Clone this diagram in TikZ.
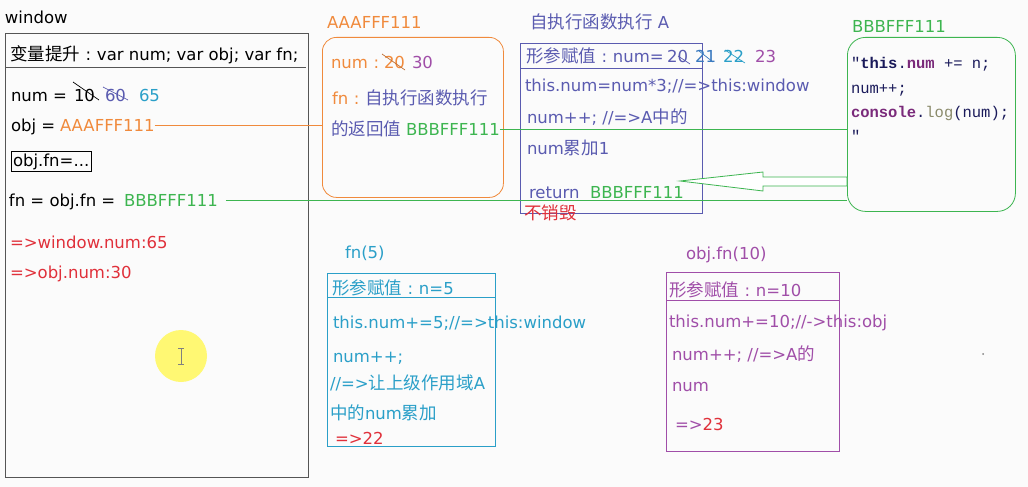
\documentclass[tikz,border=0pt]{standalone}
\usepackage{fontspec}
\setmainfont{DejaVu Sans}
\newfontfamily\cjk{Noto Sans CJK SC}
\newfontfamily\code{Liberation Mono}
\usetikzlibrary{fit}
\newcommand\zh[1]{{\cjk\fontsize{17.5}{18}\selectfont #1}}
\newcommand\cc{\makebox[17pt]{:}}
\newcommand\fs{\fontsize{16.5}{18}\selectfont}
\newcommand\cfs{\code\fontsize{15.5}{18}\selectfont}
\definecolor{bg}{HTML}{FBFBFB}
\definecolor{orng}{HTML}{F08A3C}
\definecolor{grn}{HTML}{3DB550}
\definecolor{bp}{HTML}{5A5BB0}
\definecolor{blu}{HTML}{3A7AC0}
\definecolor{cyn}{HTML}{2A9FC8}
\definecolor{purp}{HTML}{A04EA8}
\definecolor{rd}{HTML}{E0303A}
\definecolor{navy}{HTML}{1A1A5A}
\definecolor{cpurp}{HTML}{7A2A7A}
\definecolor{olive}{HTML}{8A8A6A}
\definecolor{frm}{HTML}{555555}
\tikzset{
  txt/.style={anchor=base west, inner sep=0pt, outer sep=0pt, font=\fs},
  ctxt/.style={anchor=base west, inner sep=0pt, outer sep=0pt, font=\cfs, text=navy},
  frame/.style={draw, line width=0.8pt, inner sep=0pt, anchor=north west},
  strike/.style={line width=0.7pt},
}
\begin{document}
\begin{tikzpicture}[x=1pt,y=-1pt]
\useasboundingbox (0,0) rectangle (1028,487);
\fill[bg] (0,0) rectangle (1028,487);

% ---------- window ----------
\node[txt] (wlab) at (5,24) {window};
\node[frame, draw=frm, minimum width=303pt, minimum height=444pt] (win) at (5,33) {};
\node[txt] (hoist) at (10,60) {\zh{变量提升}\cc var num; var obj; var fn;};
\draw[frm, line width=0.8pt] (5,67) -- (306,67);
\node[txt] (numl) at (11,101) {num =};
\node[txt] (v10) at (74,101) {10};
\node[txt, text=bp] (v60) at (105,101) {60};
\node[txt, text=cyn] (v65) at (139,101) {65};
\draw[strike] (73,82) -- (99,100);
\draw[strike, bp] (103,87) -- (128,100);
\node[txt] (objl) at (11,131) {obj =};
\node[txt, text=orng] (objv) at (60,131) {AAAFFF111};
\node[txt] (objfn) at (13,166) {obj.fn=...};
\node[draw, line width=0.8pt, fit=(objfn), inner sep=2pt] (objfnbox) {};
\node[txt] (fnl) at (9,206) {fn = obj.fn =};
\node[txt, text=grn] (fnv) at (124,206) {BBBFFF111};
\node[txt, text=rd] (r1) at (10,248) {=>window.num:65};
\node[txt, text=rd] (r2) at (10,278) {=>obj.num:30};

% cursor highlight
\fill[yellow!55] (181,356) circle (26pt);
\draw[gray, line width=0.8pt] (181,348) -- (181,364) (178,348) -- (184,348) (178,364) -- (184,364);

% ---------- AAAFFF111 ----------
\node[txt, text=orng] (aaalab) at (327,29) {AAAFFF111};
\node[frame, draw=orng, rounded corners=14pt, minimum width=181pt, minimum height=160pt] (aaa) at (322,37) {};
\node[txt, text=orng] (anum) at (331,69) {num\cc};
\node[txt, text=orng] (a20) at (384,69) {20};
\node[txt, text=purp] (a30) at (412,69) {30};
\draw[strike, orng!80!black] (382,54) -- (405,70);
\node[txt] (afn) at (332,104) {\textcolor{orng}{fn\cc}\textcolor{bp}{\zh{自执行函数执行}}};
\node[txt, text=bp] (aret) at (331,135) {\zh{的返回值}};
\node[txt, text=grn] (aretv) at (406,135) {BBBFFF111};

% ---------- A ----------
\node[txt, text=bp] (alab) at (530,29) {\zh{自执行函数执行} A};
\node[frame, draw=bp, minimum width=182pt, minimum height=170pt] (abox) at (520,43) {};
\draw[bp, line width=0.8pt] (520,68) -- (702,68);
\node[txt, text=bp] (ahead) at (526,63) {\zh{形参赋值}\cc num=};
\node[txt, text=bp] (a20b) at (667,63) {20};
\node[txt, text=blu] (a21) at (695,63) {21};
\node[txt, text=cyn] (a22) at (723,63) {22};
\node[txt, text=purp] (a23) at (755,63) {23};
\draw[strike, bp] (678,56) -- (690,64);
\draw[strike, blu] (699,51) -- (713,62);
\draw[strike, cyn] (725,50) -- (745,63);
\node[txt, text=bp] (al1) at (525,92) {this.num=num*3;//=>this:window};
\node[txt, text=bp] (al2) at (527,123) {num++; //=>A\zh{中的}};
\node[txt, text=bp] (al3) at (527,154) {num\zh{累加}1};
\node[txt, text=bp] (al4) at (529,198) {return};
\node[txt, text=grn] (al4v) at (590,198) {BBBFFF111};
\node[txt, text=rd] (keep) at (524,219) {\zh{不销毁}};

% ---------- BBBFFF111 ----------
\node[txt, text=grn] (blab) at (852,33) {BBBFFF111};
\node[frame, draw=grn, rounded corners=18pt, minimum width=168pt, minimum height=174pt] (bbb) at (847,37) {};
\node[ctxt] (c1) at (851,68) {"\textbf{\textcolor{navy}{this}}.\textbf{\textcolor{cpurp}{num}} += n;};
\node[ctxt] (c2) at (851,93) {num++;};
\node[ctxt] (c3) at (851,117) {\textbf{\textcolor{cpurp}{console}}.\textcolor{olive}{log}(num);};
\node[ctxt] (c4) at (851,141) {"};

% ---------- connectors ----------
\draw[orng, line width=0.8pt] (objv.east) -- (objv.east -| aaa.west);
\draw[grn, line width=0.8pt] ([xshift=8pt]fnv.east) -- (fnv.east -| bbb.west);
\draw[grn, line width=0.8pt] (aretv.east) -- (aretv.east -| bbb.west);
\coordinate (tip) at (680,181);
\draw[grn, line width=0.8pt, fill=white]
  (tip) -- (763,172) -- (763,177) -- (bbb.west |- 0,177) -- (bbb.west |- 0,186)
  -- (763,186) -- (763,191) -- cycle;

% ---------- fn(5) ----------
\node[txt, text=cyn] (f5lab) at (345,258) {fn(5)};
\node[frame, draw=cyn, minimum width=168pt, minimum height=173pt] (f5) at (327,273) {};
\draw[cyn, line width=0.8pt] (327,297) -- (495,297);
\node[txt, text=cyn] (f5h) at (332,294) {\zh{形参赋值}\cc n=5};
\node[txt, text=cyn] (f5a) at (333,328) {this.num+=5;//=>this:window};
\node[txt, text=cyn] (f5b) at (333,362) {num++;};
\node[txt, text=cyn] (f5c) at (330,389) {//=>\zh{让上级作用域}A};
\node[txt, text=cyn] (f5d) at (330,419) {\zh{中的}num\zh{累加}};
\node[txt, text=rd] (f5e) at (335,444) {=>22};

% ---------- obj.fn(10) ----------
\node[txt, text=purp] (o10lab) at (686,259) {obj.fn(10)};
\node[frame, draw=purp, minimum width=173pt, minimum height=179pt] (o10) at (666,272) {};
\draw[purp, line width=0.8pt] (666,300) -- (839,300);
\node[txt, text=purp] (o10h) at (669,296) {\zh{形参赋值}\cc n=10};
\node[txt, text=purp] (o10a) at (669,327) {this.num+=10;//->this:obj};
\node[txt, text=purp] (o10b) at (672,360) {num++; //=>A\zh{的}};
\node[txt, text=purp] (o10c) at (672,391) {num};
\node[txt] (o10d) at (675,430) {\textcolor{purp}{=>}\textcolor{rd}{23}};

\fill[gray] (983,354) circle (1pt);
\end{tikzpicture}
\end{document}
